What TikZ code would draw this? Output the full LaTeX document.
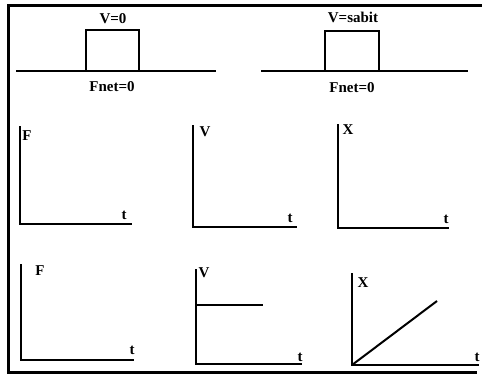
\documentclass[tikz,border=0pt]{standalone}
\usepackage{fontspec}
\setmainfont{Liberation Serif}
\begin{document}
\begin{tikzpicture}[x=1pt,y=-1pt,
  lbl/.style={font=\fontsize{15}{15}\selectfont\bfseries, inner sep=0pt},
  axis/.style={line width=1.5pt, line cap=rect},
  frame/.style={line width=3pt},
  ground/.style={line width=1.8pt},
  body/.style={draw, line width=1.1pt},
  curve/.style={line width=2pt}]
\useasboundingbox (0,0) rectangle (482,378);
% frame
\draw[frame] (482,5) -- (8,5) -- (8,372) -- (477,372);
% top-left scene
\draw[ground] (16,71) -- (216,71);
\draw[body] (86,71) rectangle (139,30);
\node[lbl] (v0) at (113,19) {V=0};
\node[lbl] (f1) at (112,87) {Fnet=0};
% top-right scene
\draw[ground] (261,71) -- (468,71);
\draw[body] (325,71) rectangle (379,31);
\node[lbl] (vs) at (353,17) {V=sabit};
\node[lbl] (f2) at (352,88) {Fnet=0};
% middle row
\draw[axis] (20,127) -- (20,224) -- (131,224);
\node[lbl] (mF) at (27,136) {F};
\node[lbl] (mt1) at (124,215) {t};
\draw[axis] (193,126) -- (193,227) -- (296,227);
\node[lbl] (mV) at (205,132) {V};
\node[lbl] (mt2) at (290,218) {t};
\draw[axis] (338,125) -- (338,228) -- (448,228);
\node[lbl] (mX) at (348,130) {X};
\node[lbl] (mt3) at (446,219) {t};
% bottom row
\draw[axis] (21,265) -- (21,360) -- (133,360);
\node[lbl] (bF) at (40,271) {F};
\node[lbl] (bt1) at (132,350) {t};
\draw[axis] (196,270) -- (196,364) -- (301,364);
\draw[curve] (196,305) -- (263,305);
\node[lbl] (bV) at (204,273) {V};
\node[lbl] (bt2) at (300,357) {t};
\draw[axis] (352,274) -- (352,365) -- (478,365);
\draw[curve] (352,365) -- (437,301);
\node[lbl] (bX) at (363,283) {X};
\node[lbl] (bt3) at (477,357) {t};
\end{tikzpicture}
\end{document}
